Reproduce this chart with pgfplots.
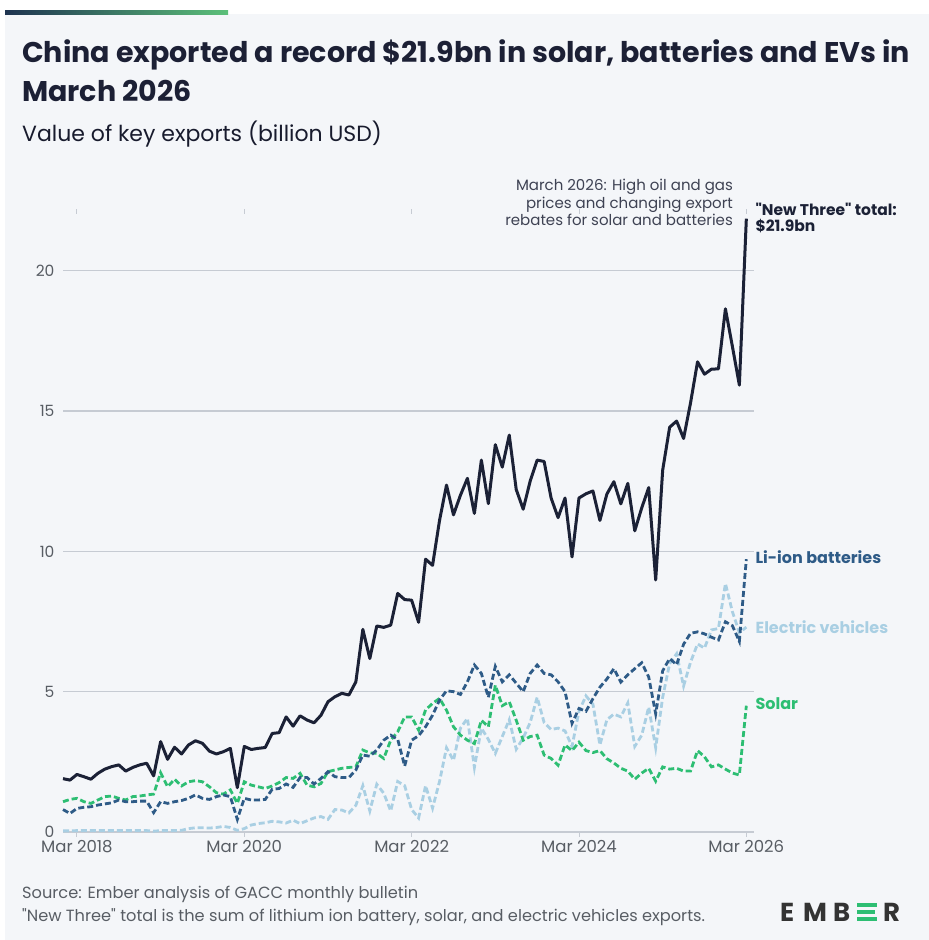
\documentclass[border=0pt]{standalone}
\usepackage{pgfplots}
\pgfplotsset{compat=1.18}
\usepackage{pgfplotstable}
\usepackage{fontspec}
\setmainfont{Poppins}[Ligatures=TeXOff]
\definecolor{navy}{HTML}{1B2136}
\definecolor{liion}{HTML}{2E5B87}
\definecolor{evc}{HTML}{A9CFE3}
\definecolor{solar}{HTML}{2DBE73}
\definecolor{bg}{HTML}{F4F6F9}
\definecolor{gridc}{HTML}{C6CBD3}
\definecolor{txt}{HTML}{585D64}
\definecolor{titlec}{HTML}{1C2035}
\definecolor{barl}{HTML}{1E3350}
\definecolor{barr}{HTML}{5CC07A}
\definecolor{logo}{HTML}{333333}

\pgfplotstableread{
m T L S E
0 1.90 0.80 1.08 0.04
1 1.85 0.66 1.16 0.04
2 2.05 0.84 1.20 0.05
3 1.97 0.88 1.08 0.05
4 1.88 0.90 1.02 0.05
5 2.09 0.96 1.14 0.05
6 2.24 1.00 1.26 0.05
7 2.33 1.04 1.28 0.05
8 2.39 1.14 1.20 0.05
9 2.17 1.08 1.14 0.05
10 2.30 1.08 1.26 0.05
11 2.39 1.10 1.28 0.05
12 2.45 1.10 1.32 0.05
13 2.00 0.69 1.35 0.03
14 3.22 1.08 2.11 0.05
15 2.59 1.02 1.61 0.05
16 3.02 1.08 1.88 0.05
17 2.78 1.12 1.64 0.06
18 3.10 1.20 1.79 0.12
19 3.25 1.32 1.83 0.15
20 3.16 1.20 1.79 0.15
21 2.88 1.16 1.61 0.14
22 2.78 1.26 1.40 0.16
23 2.86 1.32 1.35 0.20
24 2.98 1.26 1.50 0.16
25 1.58 0.45 1.02 0.06
26 3.05 1.20 1.79 0.12
27 2.94 1.14 1.67 0.25
28 2.98 1.14 1.61 0.30
29 3.01 1.16 1.55 0.33
30 3.51 1.52 1.64 0.38
31 3.54 1.55 1.76 0.36
32 4.10 1.71 1.94 0.32
33 3.77 1.59 1.91 0.42
34 4.14 1.94 2.09 0.30
35 3.99 1.94 1.67 0.40
36 3.89 1.71 1.61 0.50
37 4.16 1.91 1.73 0.55
38 4.64 2.15 2.15 0.45
39 4.82 1.97 2.21 0.80
40 4.94 1.94 2.27 0.78
41 4.88 1.94 2.30 0.68
42 5.35 2.21 2.32 0.95
43 7.22 2.74 2.92 1.65
44 6.18 2.70 2.82 0.75
45 7.34 2.92 2.80 1.70
46 7.29 3.27 2.62 1.38
47 7.37 3.45 3.27 0.75
48 8.50 3.30 3.57 1.80
49 8.28 2.35 4.10 1.65
50 8.26 3.27 4.10 0.80
51 7.47 3.43 3.63 0.50
52 9.72 3.75 4.35 1.65
53 9.50 4.16 4.58 0.85
54 11.10 4.70 4.76 1.80
55 12.36 5.03 4.34 3.00
56 11.30 5.00 3.75 2.55
57 12.00 4.90 3.45 3.70
58 12.60 5.35 3.27 4.05
59 11.35 5.95 3.15 2.30
60 13.25 5.65 3.98 3.70
61 11.70 4.80 3.75 3.30
62 13.80 5.90 5.23 2.80
63 13.00 5.35 4.50 3.40
64 14.14 5.60 4.64 4.00
65 12.20 5.30 3.98 2.95
66 11.50 5.00 3.27 3.35
67 12.50 5.65 3.40 3.90
68 13.25 5.95 3.45 4.80
69 13.20 5.65 2.74 3.90
70 11.90 5.60 2.62 3.65
71 11.20 5.35 2.38 3.70
72 11.90 5.00 3.10 3.60
73 9.80 3.87 2.90 3.05
74 11.90 4.40 3.20 4.30
75 12.05 4.30 2.90 4.85
76 12.15 4.75 2.83 4.55
77 11.10 5.16 2.90 3.10
78 12.04 5.45 2.61 4.00
79 12.48 5.82 2.46 4.20
80 11.69 5.34 2.27 4.10
81 12.42 5.60 2.17 4.60
82 10.73 5.82 1.88 3.05
83 11.55 6.03 2.10 3.45
84 12.27 5.52 2.27 4.45
85 8.98 4.21 1.81 3.00
86 12.89 5.74 2.32 4.80
87 14.42 6.18 2.24 6.00
88 14.64 5.96 2.27 6.35
89 14.02 6.69 2.17 5.20
90 15.29 7.08 2.17 6.05
91 16.75 7.13 2.90 6.70
92 16.31 7.06 2.68 6.55
93 16.49 6.94 2.32 7.20
94 16.50 6.84 2.39 7.25
95 18.64 7.49 2.24 8.85
96 17.30 7.35 2.10 7.85
97 15.92 6.79 2.03 7.10
98 21.85 9.72 4.50 7.30
}\data

\begin{document}
\begin{tikzpicture}[x=1pt,y=1pt]
\useasboundingbox (0,0) rectangle (929,940);
\fill[white] (0,0) rectangle (929,940);
\fill[bg] (5,0) rectangle (929,926);
\shade[left color=barl, right color=barr] (5,925) rectangle (228,929);

% titles
\node[anchor=base west, inner sep=0, text=titlec, font=\bfseries\fontsize{28.5}{30}\selectfont] at (22,877) {China exported a record \$21.9bn in solar, batteries and EVs in};
\node[anchor=base west, inner sep=0, text=titlec, font=\bfseries\fontsize{28.5}{30}\selectfont] at (22,838) {March 2026};
\node[anchor=base west, inner sep=0, text=titlec!85!black, font=\fontsize{22}{24}\selectfont] at (22,798) {Value of key exports (billion USD)};

% footer
\node[anchor=base west, inner sep=0, text=txt, font=\fontsize{16.2}{18}\selectfont] at (22,41) {Source: Ember analysis of GACC monthly bulletin};
\node[anchor=base west, inner sep=0, text=txt, font=\fontsize{16.2}{18}\selectfont] at (22,18) {"New Three" total is the sum of lithium ion battery, solar, and electric vehicles exports.};
% logo
\node[anchor=base west, inner sep=0, text=logo, font=\bfseries\fontsize{26}{26}\selectfont] at (780,19) {E};
\node[anchor=base west, inner sep=0, text=logo, font=\bfseries\fontsize{26}{26}\selectfont] at (803,19) {M};
\node[anchor=base west, inner sep=0, text=logo, font=\bfseries\fontsize{26}{26}\selectfont] at (833,19) {B};
\fill[solar] (857,33) rectangle (877,37);
\fill[solar] (857,26) rectangle (875,30);
\fill[solar] (857,19) rectangle (877,23);
\node[anchor=base west, inner sep=0, text=logo, font=\bfseries\fontsize{26}{26}\selectfont] at (883,19) {R};

\begin{axis}[
  at={(63pt,108pt)}, anchor=south west,
  scale only axis, width=691pt, height=617.5pt,
  xmin=0, xmax=99.1, ymin=0, ymax=22,
  clip=false,
  axis line style={draw=none},
  ytick={0,5,10,15,20},
  ymajorgrids, grid style={color=gridc, line width=1.3pt},
  ytick style={draw=none},
  xtick={2,26,50,74,98},
  xticklabels={Mar 2018,Mar 2020,Mar 2022,Mar 2024,Mar 2026},
  xtick style={draw=gridc, line width=0.9pt},
  tick align=outside, major tick length=5pt,
  xticklabel style={font=\fontsize{16.5}{16}\selectfont, text=txt},
  yticklabel style={font=\fontsize{15.5}{15}\selectfont, text=txt},
  /pgf/number format/assume math mode=true,
]
\addplot[evc, line width=2.8pt, dash pattern=on 6pt off 3pt] table[x=m,y=E] {\data};
\addplot[solar, line width=2.8pt, dash pattern=on 6pt off 3pt] table[x=m,y=S] {\data};
\addplot[liion, line width=2.8pt, dash pattern=on 6pt off 3pt] table[x=m,y=L] {\data};
\addplot[navy, line width=3pt, line join=round] table[x=m,y=T] {\data};

\node[anchor=west, inner sep=0, text=liion, font=\bfseries\fontsize{16}{16}\selectfont] at (axis cs:99.3,9.8) {Li-ion batteries};
\node[anchor=west, inner sep=0, text=evc, font=\bfseries\fontsize{16}{16}\selectfont] at (axis cs:99.3,7.3) {Electric vehicles};
\node[anchor=west, inner sep=0, text=solar, font=\bfseries\fontsize{16}{16}\selectfont] at (axis cs:99.3,4.56) {Solar};
\node[anchor=base west, inner sep=0, text=navy, font=\bfseries\fontsize{15.5}{15}\selectfont] at (axis cs:99.3,21.95) {"New Three" total:};
\node[anchor=base west, inner sep=0, text=navy, font=\bfseries\fontsize{15.5}{15}\selectfont] at (axis cs:99.3,21.38) {\$21.9bn};
\node[anchor=base east, inner sep=0, text=titlec!85, font=\fontsize{15}{15}\selectfont] at (axis cs:96.1,22.85) {March 2026: High oil and gas};
\node[anchor=base east, inner sep=0, text=titlec!85, font=\fontsize{15}{15}\selectfont] at (axis cs:96.1,22.22) {prices and changing export};
\node[anchor=base east, inner sep=0, text=titlec!85, font=\fontsize{15}{15}\selectfont] at (axis cs:96.1,21.6) {rebates for solar and batteries};
\end{axis}
\end{tikzpicture}
\end{document}
